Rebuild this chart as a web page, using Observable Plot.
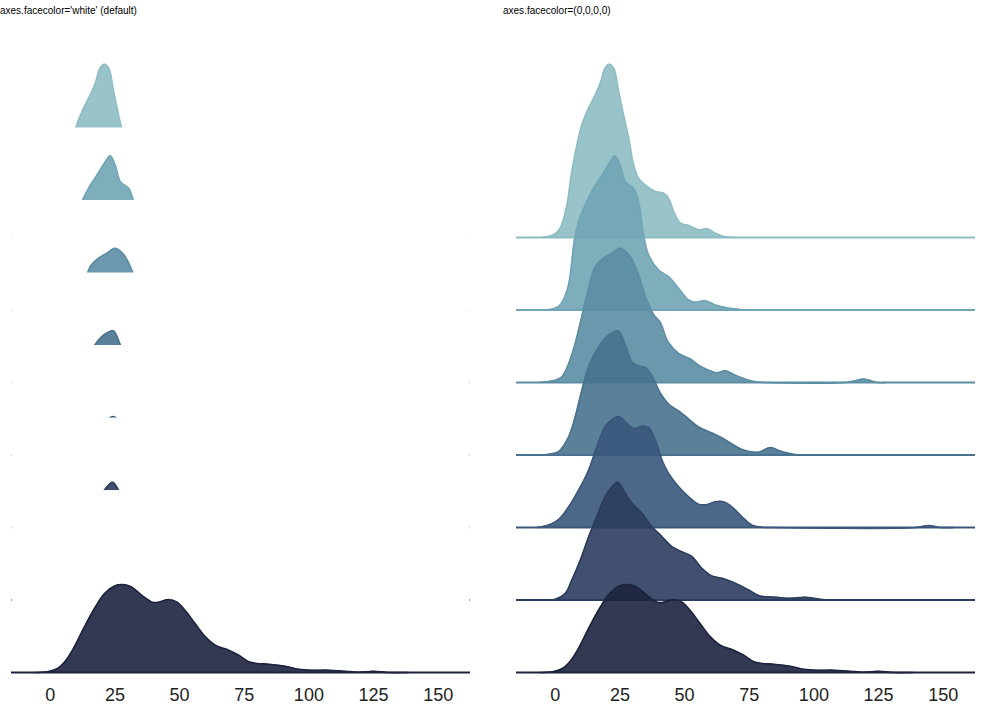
<!DOCTYPE html>
<html>
<head>
<meta charset="utf-8">
<script src="https://cdn.jsdelivr.net/npm/d3@7"></script>
<script src="https://cdn.jsdelivr.net/npm/@observablehq/plot@0.6"></script>
<style>
  html, body { margin: 0; padding: 0; background: white; }
  #wrap { position: relative; width: 985px; height: 717px; overflow: hidden; font-family: "Liberation Sans", Arial, sans-serif; }
  .title { position: absolute; font-size: 10px; line-height: 10px; color: #000; white-space: nowrap; }
  .panel { position: absolute; top: 20px; }
</style>
</head>
<body>
<div id="wrap">
  <div class="title" style="left:0px;top:6px">axes.facecolor='white' (default)</div>
  <div class="title" style="left:503px;top:6px">axes.facecolor=(0,0,0,0)</div>
  <div id="left" class="panel" style="left:0px"></div>
  <div id="right" class="panel" style="left:505px"></div>
</div>
<script>
// ---- data: kernel density curves of 7 groups (top to bottom) ----
const x0 = [-5.2,-0.6,1.9,4.5,6.4,8.4,10.3,12.9,15.5,17.4,19.3,20.9,22.6,24.5,26.4,28.4,30.3,32.2,35.5,38.7,41.9,43.8,45.8,48.4,51.6,55.4,58.7,61.9,65.8,69.6];
const d0 = [0,2.7,9.3,32.7,66,92.7,112.7,129.3,142.7,154.3,169.3,173.3,169.3,146,122.7,99.3,72.7,59.3,51,46,44.3,39.3,26,14.3,12,7.7,8.7,4.3,0.7,0];

const x1 = [-3.9,1.5,4.8,7.5,9.5,12.5,14.8,18.1,21.3,23.2,25.1,27.1,30.3,32.2,34.2,36.1,40,43.8,47.7,51.6,54.2,58,61.9,66.4,70.9,72.2];
const d1 = [0,4,21.7,71.7,92,110,121.7,135,148.3,154.3,145,128.3,121.7,108.3,75,55,40,33.3,21.7,10,7.7,9.3,5,2.3,0.7,0];

const x2 = [-6.4,-2.6,0,2.6,5.2,7.7,9.7,12.3,15.5,18.7,21.9,25.1,28.4,31.6,35,38,40.6,43.5,47.7,52.2,55.4,59.3,62.5,65.8,69.6,74.8,78,81,112.5,116,119.2,122,124.5,128];
const d2 = [0,1,2.3,5.7,19,39,60,88,116,124.3,129.3,134.3,128,112,85,68,60,41,29,23.5,17.3,12.3,9.7,11.7,7.3,2.3,0.5,0,0,1.8,3.5,1.8,0,0];

const x3 = [-5.2,-2,1.3,5.2,7.7,10.3,12.9,16.1,19.3,22.6,24.5,27.1,29.7,32.2,34.8,37.4,40.6,43.8,47.7,51.6,55.4,60.6,64.5,68.3,72.2,76.1,79,83.1,87,92.1,94];
const d3 = [0,1,3.3,18.3,38.3,65,88.3,105,116.7,123,124,110,93,89,87.5,79,62,51,44,36,28,22,17,11,5.5,3,3,7.4,4,0.7,0];

const x4 = [-7.1,-2.6,1.3,5.2,9,12.9,16.1,19.3,22.6,24.5,27.7,30.3,33.5,36.1,38.7,41.3,43.8,47.7,51.6,55.4,58.7,61.9,65.1,68.3,72.2,76.1,80,83,139.5,144.3,149,154];
const d4 = [0,2.5,8,20.7,37.3,57.3,80.7,100.7,109,111,104,99,101.3,100,87.3,67.3,54,40.7,30.7,23.3,23,25.7,25.7,20.7,10.7,2.3,0.3,0,0,2,0,0];

const x5 = [-1.9,0,3.9,6.4,9.7,12.9,16.1,19.3,22.6,24.2,27.1,29.7,33.5,37.4,41.3,45.1,49,52.9,56.7,60.6,64.5,69.6,74.8,79.2,85.7,90.8,96.6,102.4,107];
const d5 = [0,0.7,6.7,20,40,63.3,83.3,103.3,115,117.7,106.7,96.7,86.7,73.3,63.3,53.3,48.3,43.3,31.7,24,21.7,16.7,10,4,2.7,1.7,2.7,0.7,0];

const x6 = [-6,-1.1,2.8,6.1,9.3,13.2,17.1,21,24.9,28.1,31.4,35.3,39.8,42.4,45.7,48.9,52.1,56,60,63.8,69,72.9,76.8,80,84.4,90.8,96,101.2,107.6,114,119.2,125,130.8,138.4];
const d6 = [0,0.7,4,12.3,25.6,45.6,64,79,86.6,88,85.6,77.3,70,70.6,73,70.6,62.3,49,35.6,27.3,22.3,17.3,10.7,9,8.3,6.3,3.3,2.3,2.3,1.3,0.3,1.3,0,0];

const xTicks = [0, 25, 50, 75, 100, 125, 150];
const colors = ["#8dbdc2", "#70a5b5", "#5b8da3", "#48728f", "#3a577b", "#2b3d5e", "#1d233f"];

// ---- layout constants ----
const xDomain = [-15, 162.5];
const rowStep = 72.5;     // vertical offset between ridges (density units)
const axesH = 182;        // height of each (overlapping) row's axes background
const nRows = 7;

const rows = [[x0, d0], [x1, d1], [x2, d2], [x3, d3], [x4, d4], [x5, d5], [x6, d6]];

function panel(opaque, width, marginRight) {
  const marks = [];
  rows.forEach(([xs, ds], i) => {
    const base = (nRows - 1 - i) * rowStep;
    const pts = xs.map((x, j) => ({x, y1: base, y2: base + ds[j]}));
    if (opaque) {
      marks.push(Plot.rect([{x1: xDomain[0] + 0.2, x2: xDomain[1] - 0.2, y1: base, y2: base + axesH}],
        {x1: "x1", x2: "x2", y1: "y1", y2: "y2", fill: "white"}));
    }
    marks.push(Plot.areaY(pts, {x: "x", y1: "y1", y2: "y2", fill: colors[i], fillOpacity: 0.9, curve: "catmull-rom"}));
    marks.push(Plot.line(pts, {x: "x", y: "y2", stroke: colors[i], strokeWidth: 1.6, curve: "catmull-rom"}));
    marks.push(Plot.ruleY([base], {stroke: colors[i], strokeWidth: 2}));
  });
  return Plot.plot({
    width,
    height: 697,
    marginTop: 10,
    marginBottom: 45,
    marginLeft: 11,
    marginRight,
    style: {fontFamily: "'Liberation Sans', Arial, sans-serif", fontSize: "18px", color: "#222", background: "white"},
    x: {domain: xDomain, ticks: xTicks, tickSize: 0, tickPadding: 16, tickFormat: d => String(d), label: null},
    y: {domain: [0, 642], axis: null},
    marks
  });
}

document.getElementById("left").appendChild(panel(true, 492, 22));
document.getElementById("right").appendChild(panel(false, 480, 10));
</script>
</body>
</html>
